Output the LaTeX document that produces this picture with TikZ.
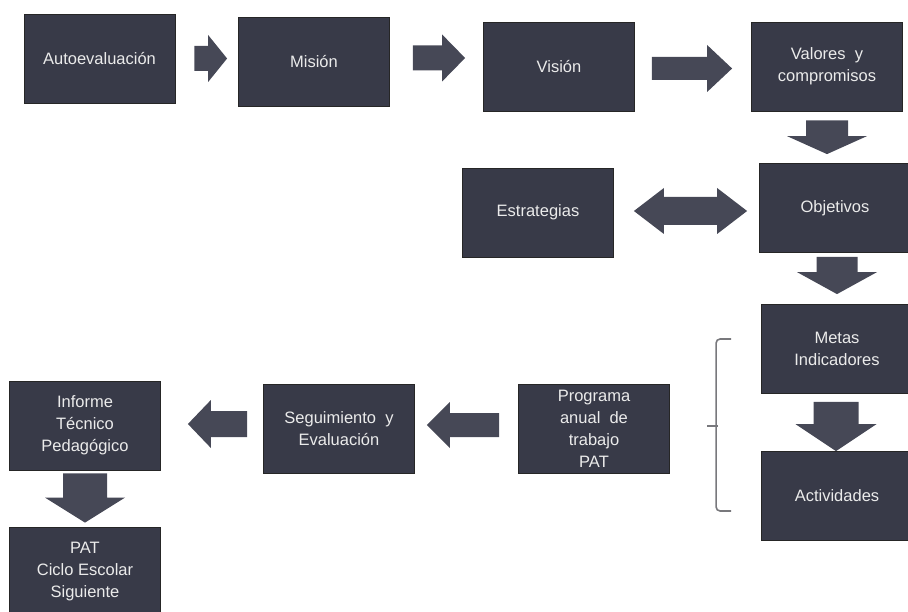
\documentclass[tikz,border=0pt]{standalone}
\usepackage{fontspec}
\setmainfont{Liberation Sans}
\usepackage{tikz}
\usetikzlibrary{calc}
\definecolor{boxgray}{RGB}{56,58,72}
\definecolor{arrowgray}{RGB}{70,72,86}
\definecolor{bracegray}{RGB}{120,120,124}

\begin{document}
\begin{tikzpicture}[
    x=1pt, y=-1pt,
    box/.style={rectangle, draw=black!85, line width=0.8pt, fill=boxgray, text=white!92!black, minimum width=151pt, minimum height=89pt, align=center, inner sep=1pt, font=\fontsize{16.5}{22}\selectfont},
    blockarrow/.style n args={3}{fill=arrowgray, to path={
        ($(\tikztostart)!#1!90:(\tikztotarget)$)
        -- ($(\tikztotarget)!#3!(\tikztostart)!#1!-90:(\tikztostart)$)
        -- ($(\tikztotarget)!#3!(\tikztostart)!#2!-90:(\tikztostart)$)
        -- (\tikztotarget)
        -- ($(\tikztotarget)!#3!(\tikztostart)!#2!90:(\tikztostart)$)
        -- ($(\tikztotarget)!#3!(\tikztostart)!#1!90:(\tikztostart)$)
        -- ($(\tikztostart)!#1!-90:(\tikztotarget)$) -- cycle}},
    doublearrow/.style n args={3}{fill=arrowgray, to path={
        (\tikztostart)
        -- ($(\tikztostart)!#3!(\tikztotarget)!#2!90:(\tikztotarget)$)
        -- ($(\tikztostart)!#3!(\tikztotarget)!#1!90:(\tikztotarget)$)
        -- ($(\tikztotarget)!#3!(\tikztostart)!#1!-90:(\tikztostart)$)
        -- ($(\tikztotarget)!#3!(\tikztostart)!#2!-90:(\tikztostart)$)
        -- (\tikztotarget)
        -- ($(\tikztotarget)!#3!(\tikztostart)!#2!90:(\tikztostart)$)
        -- ($(\tikztotarget)!#3!(\tikztostart)!#1!90:(\tikztostart)$)
        -- ($(\tikztostart)!#3!(\tikztotarget)!#1!-90:(\tikztotarget)$)
        -- ($(\tikztostart)!#3!(\tikztotarget)!#2!-90:(\tikztotarget)$)
        -- cycle}},
    bracket/.style={draw=bracegray, line width=1.6pt, rounded corners=4pt},
]
\useasboundingbox (0,0) rectangle (908,612);

% Top row
\node[box] (auto) at (99.5,58.5) {Autoevaluación};
\node[box] (mision) at (314,62) {Misión};
\node[box] (vision) at (559,67) {Visión};
\node[box] (valores) at (827,66.5) {Valores~~y\\compromisos};

% Middle row
\node[box] (estrat) at (538,212.5) {Estrategias};
\node[box] (objet) at (835,208) {Objetivos};

% Right column
\node[box] (metas) at (837,349) {Metas\\Indicadores};
\node[box] (activ) at (837,496) {Actividades};

% Bottom row
\node[box] (prog) at (594,428.5) {Programa\\anual~~de\\trabajo\\PAT};
\node[box] (segu) at (339,428.5) {Seguimiento~~y\\Evaluación};
\node[box] (informe) at (85,425.5) {Informe\\Técnico\\Pedagógico};
\node[box] (patsig) at (85,571.5) {PAT\\Ciclo Escolar\\Siguiente};

% Arrow ends
\coordinate (a1s) at ($(auto.east)+(19,0)$);
\coordinate (a1e) at ($(mision.west |- auto.east)+(-11,0)$);
\coordinate (a2s) at ($(mision.east)+(23,-4)$);
\coordinate (a2e) at ($(vision.west |- mision.east)+(-18,-4)$);
\coordinate (a3s) at ($(vision.east)+(17,1.5)$);
\coordinate (a3e) at ($(valores.west |- vision.east)+(-19,1.5)$);
\coordinate (a4s) at ($(valores.south)+(0,9)$);
\coordinate (a4e) at ($(objet.north -| valores.south)+(0,-9)$);
\coordinate (a5s) at ($(estrat.east)+(20,-1.5)$);
\coordinate (a5e) at ($(objet.west |- estrat.east)+(-12,-1.5)$);
\coordinate (a6s) at ($(objet.south)+(2,4)$);
\coordinate (a6e) at ($(metas.north -| objet.south)+(2,-10)$);
\coordinate (a7s) at ($(metas.south)+(-1,8)$);
\coordinate (a7e) at ($(activ.north)+(-1,0)$);
\coordinate (a8s) at ($(prog.west)+(-19,-3.5)$);
\coordinate (a8e) at ($(segu.east |- prog.west)+(12,-3.5)$);
\coordinate (a9s) at ($(segu.west)+(-16,-4.5)$);
\coordinate (a9e) at ($(informe.east |- segu.west)+(27,-4.5)$);
\coordinate (a10s) at ($(informe.south)+(0,3)$);
\coordinate (a10e) at ($(patsig.north)+(0,-4)$);

% Block arrows
\path[blockarrow={12.5pt}{23.5pt}{19pt}] (a1s) to (a1e);
\path[blockarrow={12.5pt}{23.5pt}{23pt}] (a2s) to (a2e);
\path[blockarrow={11.5pt}{23.5pt}{25pt}] (a3s) to (a3e);
\path[blockarrow={21pt}{40pt}{18pt}] (a4s) to (a4e);
\path[doublearrow={14pt}{23pt}{30pt}] (a5s) to (a5e);
\path[blockarrow={20.5pt}{40pt}{22pt}] (a6s) to (a6e);
\path[blockarrow={22.5pt}{40.5pt}{27pt}] (a7s) to (a7e);
\path[blockarrow={12pt}{23pt}{23pt}] (a8s) to (a8e);
\path[blockarrow={13pt}{24pt}{23pt}] (a9s) to (a9e);
\path[blockarrow={22pt}{40pt}{25pt}] (a10s) to (a10e);

% Bracket
\draw[bracket] ($(metas.west)+(-30,-10)$) -- ++(-15,0) |- ($(activ.west)+(-30,15)$);
\draw[bracket] (718,426) -- ++(-11,0);

\end{tikzpicture}
\end{document}
